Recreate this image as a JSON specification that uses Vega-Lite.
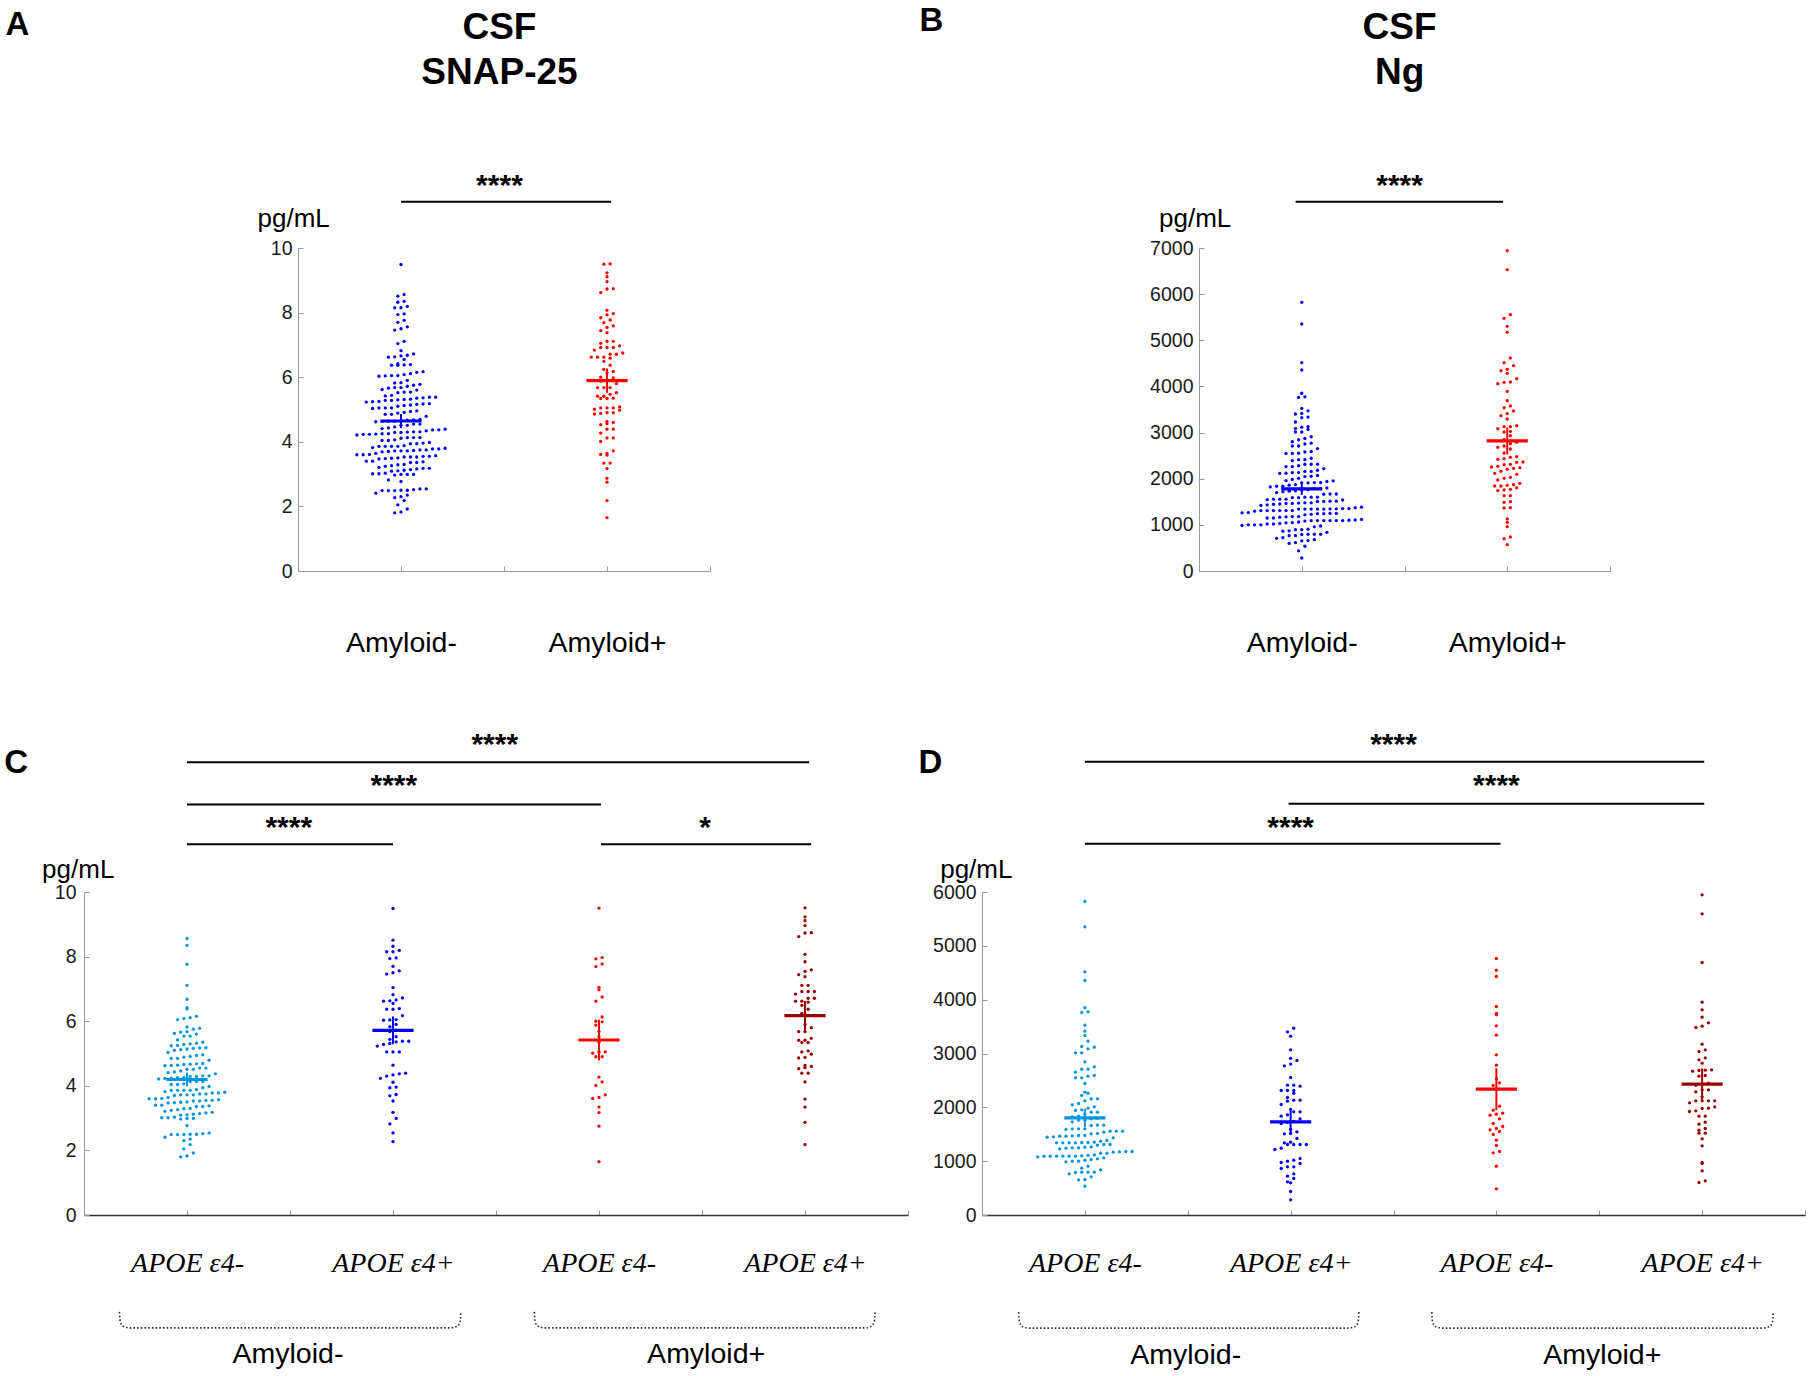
{
"$schema":"https://vega.github.io/schema/vega-lite/v6.json",
"background":"#ffffff",
"padding":{"left":4,"top":5,"right":0,"bottom":0},
"config":{"view":{"stroke":null},"font":"Liberation Sans",
"axis":{"grid":false,"domainColor":"#999999","tickColor":"#999999","domainWidth":1,"tickWidth":1,"tickSize":-5,"labelColor":"#1a1a1a","labelFontSize":19.5,"labelFont":"Liberation Sans","titleFont":"Liberation Sans"}},
"datasets":{
"notes":[
{"p":"A","k":"L","t":"A","px":-0.92,"py":16.58},
{"p":"B","k":"L","t":"B","px":-0.86,"py":11698},
{"p":"C","k":"L","t":"C","px":0.113,"py":13.69},
{"p":"D","k":"L","t":"D","px":0.191,"py":8209},
{"p":"A","k":"T","t":"CSF","px":1.478,"py":16.47},
{"p":"A","k":"T","t":"SNAP-25","px":1.478,"py":15.065},
{"p":"B","k":"T","t":"CSF","px":1.476,"py":11529},
{"p":"B","k":"T","t":"Ng","px":1.476,"py":10545},
{"p":"A","k":"S","t":"****","px":1.478,"py":11.653},
{"p":"B","k":"S","t":"****","px":1.476,"py":8157},
{"p":"C","k":"S","t":"****","px":2.494,"py":14.263},
{"p":"C","k":"S","t":"****","px":2.004,"py":12.992},
{"p":"C","k":"S","t":"****","px":1.494,"py":11.694},
{"p":"C","k":"S","t":"*","px":3.515,"py":11.694},
{"p":"D","k":"S","t":"****","px":2.5,"py":8571},
{"p":"D","k":"S","t":"****","px":3.0,"py":7808},
{"p":"D","k":"S","t":"****","px":2.0,"py":7027},
{"p":"C","k":"G","t":"Amyloid-","px":1.49,"py":-4.59},
{"p":"C","k":"G","t":"Amyloid+","px":3.52,"py":-4.59},
{"p":"D","k":"G","t":"Amyloid-","px":1.49,"py":-2759},
{"p":"D","k":"G","t":"Amyloid+","px":3.515,"py":-2759}
],
"sigl":[
{"p":"A","px":1,"px2":2.02,"py":11.433},
{"p":"B","px":0.97,"px2":1.98,"py":8003},
{"p":"C","px":1,"px2":4.02,"py":14.02},
{"p":"C","px":1,"px2":3.01,"py":12.71},
{"p":"C","px":1,"px2":2.0,"py":11.48},
{"p":"C","px":3.01,"px2":4.03,"py":11.48},
{"p":"D","px":1,"px2":4.01,"py":8419},
{"p":"D","px":1.99,"px2":4.01,"py":7639},
{"p":"D","px":1.0,"px2":3.02,"py":6897}
],
"brace":[
{"p":"C","id":1,"o":1,"px":0.672,"py":-3.0},{"p":"C","id":1,"o":2,"px":0.676,"py":-3.3},{"p":"C","id":1,"o":3,"px":0.69,"py":-3.447},{"p":"C","id":1,"o":4,"px":0.727,"py":-3.496},{"p":"C","id":1,"o":5,"px":2.275,"py":-3.496},{"p":"C","id":1,"o":6,"px":2.312,"py":-3.447},{"p":"C","id":1,"o":7,"px":2.326,"py":-3.3},{"p":"C","id":1,"o":8,"px":2.33,"py":-3.0},
{"p":"C","id":2,"o":1,"px":2.686,"py":-3.0},{"p":"C","id":2,"o":2,"px":2.69,"py":-3.3},{"p":"C","id":2,"o":3,"px":2.704,"py":-3.447},{"p":"C","id":2,"o":4,"px":2.741,"py":-3.496},{"p":"C","id":2,"o":5,"px":4.285,"py":-3.496},{"p":"C","id":2,"o":6,"px":4.322,"py":-3.447},{"p":"C","id":2,"o":7,"px":4.336,"py":-3.3},{"p":"C","id":2,"o":8,"px":4.34,"py":-3.0},
{"p":"D","id":3,"o":1,"px":0.678,"py":-1804},{"p":"D","id":3,"o":2,"px":0.682,"py":-1984},{"p":"D","id":3,"o":3,"px":0.696,"py":-2072},{"p":"D","id":3,"o":4,"px":0.733,"py":-2101},{"p":"D","id":3,"o":5,"px":2.277,"py":-2101},{"p":"D","id":3,"o":6,"px":2.314,"py":-2072},{"p":"D","id":3,"o":7,"px":2.328,"py":-1984},{"p":"D","id":3,"o":8,"px":2.332,"py":-1804},
{"p":"D","id":4,"o":1,"px":2.686,"py":-1804},{"p":"D","id":4,"o":2,"px":2.69,"py":-1984},{"p":"D","id":4,"o":3,"px":2.704,"py":-2072},{"p":"D","id":4,"o":4,"px":2.741,"py":-2101},{"p":"D","id":4,"o":5,"px":4.291,"py":-2101},{"p":"D","id":4,"o":6,"px":4.328,"py":-2072},{"p":"D","id":4,"o":7,"px":4.342,"py":-1984},{"p":"D","id":4,"o":8,"px":4.346,"py":-1804}
],
"pts":[
{"m":"S","g":1,"v":8.56},{"m":"S","g":1,"v":8.35},{"m":"S","g":1,"v":7.76},{"m":"S","g":1,"v":7.11},{"m":"S","g":1,"v":6.68},{"m":"S","g":1,"v":6.42},{"m":"S","g":1,"v":6.38},{"m":"S","g":1,"v":6.15},{"m":"S","g":1,"v":6.11},{"m":"S","g":1,"v":6.05},{"m":"S","g":1,"v":6.08},{"m":"S","g":1,"v":5.78},{"m":"S","g":1,"v":5.82},{"m":"S","g":1,"v":5.75},{"m":"S","g":1,"v":5.62},{"m":"S","g":1,"v":5.54},{"m":"S","g":1,"v":5.66},{"m":"S","g":1,"v":5.68},{"m":"S","g":1,"v":5.60},{"m":"S","g":1,"v":5.54},
{"m":"S","g":1,"v":5.30},{"m":"S","g":1,"v":5.42},{"m":"S","g":1,"v":5.32},{"m":"S","g":1,"v":5.35},{"m":"S","g":1,"v":5.28},{"m":"S","g":1,"v":5.24},{"m":"S","g":1,"v":5.25},{"m":"S","g":1,"v":5.10},{"m":"S","g":1,"v":5.17},{"m":"S","g":1,"v":5.16},{"m":"S","g":1,"v":5.18},{"m":"S","g":1,"v":5.12},{"m":"S","g":1,"v":5.14},{"m":"S","g":1,"v":4.94},{"m":"S","g":1,"v":4.89},{"m":"S","g":1,"v":5.03},{"m":"S","g":1,"v":4.85},{"m":"S","g":1,"v":4.91},{"m":"S","g":1,"v":4.85},{"m":"S","g":1,"v":4.96},
{"m":"S","g":1,"v":4.79},{"m":"S","g":1,"v":4.64},{"m":"S","g":1,"v":4.69},{"m":"S","g":1,"v":4.62},{"m":"S","g":1,"v":4.66},{"m":"S","g":1,"v":4.67},{"m":"S","g":1,"v":4.68},{"m":"S","g":1,"v":4.63},{"m":"S","g":1,"v":4.46},{"m":"S","g":1,"v":4.51},{"m":"S","g":1,"v":4.55},{"m":"S","g":1,"v":4.51},{"m":"S","g":1,"v":4.55},{"m":"S","g":1,"v":4.37},{"m":"S","g":1,"v":4.43},{"m":"S","g":1,"v":4.41},{"m":"S","g":1,"v":4.24},{"m":"S","g":1,"v":4.21},{"m":"S","g":1,"v":4.13},{"m":"S","g":1,"v":4.25},
{"m":"S","g":1,"v":4.29},{"m":"S","g":1,"v":4.31},{"m":"S","g":1,"v":4.25},{"m":"S","g":1,"v":4.31},{"m":"S","g":1,"v":4.29},{"m":"S","g":1,"v":4.23},{"m":"S","g":1,"v":4.13},{"m":"S","g":1,"v":4.13},{"m":"S","g":1,"v":4.04},{"m":"S","g":1,"v":4.04},{"m":"S","g":1,"v":4.06},{"m":"S","g":1,"v":3.98},{"m":"S","g":1,"v":3.94},{"m":"S","g":1,"v":3.86},{"m":"S","g":1,"v":3.88},{"m":"S","g":1,"v":3.80},{"m":"S","g":1,"v":3.78},{"m":"S","g":1,"v":3.78},{"m":"S","g":1,"v":3.86},{"m":"S","g":1,"v":3.86},
{"m":"S","g":1,"v":3.82},{"m":"S","g":1,"v":3.86},{"m":"S","g":1,"v":3.75},{"m":"S","g":1,"v":3.75},{"m":"S","g":1,"v":3.72},{"m":"S","g":1,"v":3.70},{"m":"S","g":1,"v":3.61},{"m":"S","g":1,"v":3.72},{"m":"S","g":1,"v":3.72},{"m":"S","g":1,"v":3.50},{"m":"S","g":1,"v":3.48},{"m":"S","g":1,"v":3.57},{"m":"S","g":1,"v":3.53},{"m":"S","g":1,"v":3.55},{"m":"S","g":1,"v":3.53},{"m":"S","g":1,"v":3.60},{"m":"S","g":1,"v":3.55},{"m":"S","g":1,"v":3.60},{"m":"S","g":1,"v":3.47},{"m":"S","g":1,"v":3.64},
{"m":"S","g":1,"v":3.49},{"m":"S","g":1,"v":3.36},{"m":"S","g":1,"v":3.40},{"m":"S","g":1,"v":3.36},{"m":"S","g":1,"v":3.40},{"m":"S","g":1,"v":3.30},{"m":"S","g":1,"v":3.38},{"m":"S","g":1,"v":3.29},{"m":"S","g":1,"v":3.24},{"m":"S","g":1,"v":3.26},{"m":"S","g":1,"v":2.97},{"m":"S","g":1,"v":3.12},{"m":"S","g":1,"v":2.99},{"m":"S","g":1,"v":3.18},{"m":"S","g":1,"v":3.01},{"m":"S","g":1,"v":3.14},{"m":"S","g":1,"v":3.10},{"m":"S","g":1,"v":2.99},{"m":"S","g":1,"v":3.01},{"m":"S","g":1,"v":3.09},
{"m":"S","g":1,"v":3.03},{"m":"S","g":1,"v":3.16},{"m":"S","g":1,"v":3.21},{"m":"S","g":1,"v":2.77},{"m":"S","g":1,"v":2.41},{"m":"S","g":1,"v":2.52},{"m":"S","g":1,"v":2.49},{"m":"S","g":1,"v":2.50},{"m":"S","g":1,"v":2.54},{"m":"S","g":1,"v":2.49},{"m":"S","g":1,"v":2.49},{"m":"S","g":1,"v":2.50},{"m":"S","g":1,"v":2.35},{"m":"S","g":1,"v":2.30},{"m":"S","g":1,"v":2.18},{"m":"S","g":1,"v":2.05},{"m":"S","g":1,"v":1.92},{"m":"S","g":1,"v":1.80},{"m":"S","g":1,"v":1.83},
{"m":"S","g":2,"v":9.49},{"m":"S","g":2,"v":8.51},{"m":"S","g":2,"v":8.32},{"m":"S","g":2,"v":8.19},{"m":"S","g":2,"v":8.15},{"m":"S","g":2,"v":8.15},{"m":"S","g":2,"v":7.94},{"m":"S","g":2,"v":7.96},{"m":"S","g":2,"v":7.70},{"m":"S","g":2,"v":7.56},{"m":"S","g":2,"v":7.50},{"m":"S","g":2,"v":7.46},{"m":"S","g":2,"v":7.04},{"m":"S","g":2,"v":6.82},{"m":"S","g":2,"v":6.72},{"m":"S","g":2,"v":6.62},{"m":"S","g":2,"v":6.66},{"m":"S","g":2,"v":6.63},{"m":"S","g":2,"v":6.55},{"m":"S","g":2,"v":6.37},
{"m":"S","g":2,"v":6.37},{"m":"S","g":2,"v":6.39},{"m":"S","g":2,"v":6.17},{"m":"S","g":2,"v":6.05},{"m":"S","g":2,"v":6.04},{"m":"S","g":2,"v":6.03},{"m":"S","g":2,"v":5.90},{"m":"S","g":2,"v":5.83},{"m":"S","g":2,"v":5.72},{"m":"S","g":2,"v":5.68},{"m":"S","g":2,"v":5.52},{"m":"S","g":2,"v":5.44},{"m":"S","g":2,"v":5.38},{"m":"S","g":2,"v":5.38},{"m":"S","g":2,"v":5.31},{"m":"S","g":2,"v":5.36},{"m":"S","g":2,"v":5.28},{"m":"S","g":2,"v":5.23},{"m":"S","g":2,"v":5.05},{"m":"S","g":2,"v":5.05},
{"m":"S","g":2,"v":5.05},{"m":"S","g":2,"v":4.64},{"m":"S","g":2,"v":4.39},{"m":"S","g":2,"v":4.34},{"m":"S","g":2,"v":4.30},{"m":"S","g":2,"v":4.37},{"m":"S","g":2,"v":4.23},{"m":"S","g":2,"v":4.11},{"m":"S","g":2,"v":3.96},{"m":"S","g":2,"v":3.94},{"m":"S","g":2,"v":3.73},{"m":"S","g":2,"v":3.69},{"m":"S","g":2,"v":3.53},{"m":"S","g":2,"v":3.18},{"m":"S","g":2,"v":2.99},{"m":"S","g":2,"v":2.82},{"m":"S","g":2,"v":2.54},{"m":"S","g":2,"v":2.27},
{"m":"S","g":3,"v":9.50},{"m":"S","g":3,"v":7.97},{"m":"S","g":3,"v":7.93},{"m":"S","g":3,"v":7.77},{"m":"S","g":3,"v":7.69},{"m":"S","g":3,"v":7.05},{"m":"S","g":3,"v":6.97},{"m":"S","g":3,"v":6.75},{"m":"S","g":3,"v":6.62},{"m":"S","g":3,"v":6.13},{"m":"S","g":3,"v":5.98},{"m":"S","g":3,"v":6.00},{"m":"S","g":3,"v":5.88},{"m":"S","g":3,"v":5.68},{"m":"S","g":3,"v":5.52},{"m":"S","g":3,"v":5.35},{"m":"S","g":3,"v":5.05},{"m":"S","g":3,"v":5.01},{"m":"S","g":3,"v":5.05},{"m":"S","g":3,"v":4.90},
{"m":"S","g":3,"v":4.90},{"m":"S","g":3,"v":4.27},{"m":"S","g":3,"v":4.12},{"m":"S","g":3,"v":4.01},{"m":"S","g":3,"v":3.72},{"m":"S","g":3,"v":3.64},{"m":"S","g":3,"v":3.61},{"m":"S","g":3,"v":3.34},{"m":"S","g":3,"v":3.17},{"m":"S","g":3,"v":2.75},{"m":"S","g":3,"v":1.65},
{"m":"S","g":4,"v":9.51},{"m":"S","g":4,"v":9.23},{"m":"S","g":4,"v":9.11},{"m":"S","g":4,"v":8.96},{"m":"S","g":4,"v":8.74},{"m":"S","g":4,"v":8.73},{"m":"S","g":4,"v":8.62},{"m":"S","g":4,"v":8.07},{"m":"S","g":4,"v":7.84},{"m":"S","g":4,"v":7.59},{"m":"S","g":4,"v":7.54},{"m":"S","g":4,"v":7.44},{"m":"S","g":4,"v":7.38},{"m":"S","g":4,"v":7.11},{"m":"S","g":4,"v":7.11},{"m":"S","g":4,"v":6.92},{"m":"S","g":4,"v":6.92},{"m":"S","g":4,"v":6.92},{"m":"S","g":4,"v":6.84},{"m":"S","g":4,"v":6.71},
{"m":"S","g":4,"v":6.71},{"m":"S","g":4,"v":6.62},{"m":"S","g":4,"v":6.62},{"m":"S","g":4,"v":6.59},{"m":"S","g":4,"v":6.49},{"m":"S","g":4,"v":6.37},{"m":"S","g":4,"v":6.24},{"m":"S","g":4,"v":6.18},{"m":"S","g":4,"v":5.90},{"m":"S","g":4,"v":5.80},{"m":"S","g":4,"v":5.68},{"m":"S","g":4,"v":5.68},{"m":"S","g":4,"v":5.47},{"m":"S","g":4,"v":5.41},{"m":"S","g":4,"v":5.41},{"m":"S","g":4,"v":5.34},{"m":"S","g":4,"v":5.34},{"m":"S","g":4,"v":5.08},{"m":"S","g":4,"v":5.05},{"m":"S","g":4,"v":4.98},
{"m":"S","g":4,"v":4.88},{"m":"S","g":4,"v":4.86},{"m":"S","g":4,"v":4.63},{"m":"S","g":4,"v":4.60},{"m":"S","g":4,"v":4.56},{"m":"S","g":4,"v":4.53},{"m":"S","g":4,"v":4.39},{"m":"S","g":4,"v":4.39},{"m":"S","g":4,"v":4.12},{"m":"S","g":4,"v":3.59},{"m":"S","g":4,"v":3.34},{"m":"S","g":4,"v":2.87},{"m":"S","g":4,"v":2.18},
{"m":"N","g":1,"v":5823},{"m":"N","g":1,"v":5353},{"m":"N","g":1,"v":4517},{"m":"N","g":1,"v":4356},{"m":"N","g":1,"v":3852},{"m":"N","g":1,"v":3774},{"m":"N","g":1,"v":3762},{"m":"N","g":1,"v":3526},{"m":"N","g":1,"v":3415},{"m":"N","g":1,"v":3335},{"m":"N","g":1,"v":3229},{"m":"N","g":1,"v":3130},{"m":"N","g":1,"v":3118},{"m":"N","g":1,"v":3087},{"m":"N","g":1,"v":3013},{"m":"N","g":1,"v":3013},{"m":"N","g":1,"v":2845},{"m":"N","g":1,"v":2752},{"m":"N","g":1,"v":2709},{"m":"N","g":1,"v":2653},
{"m":"N","g":1,"v":2709},{"m":"N","g":1,"v":2591},{"m":"N","g":1,"v":2579},{"m":"N","g":1,"v":2548},{"m":"N","g":1,"v":2548},{"m":"N","g":1,"v":2443},{"m":"N","g":1,"v":2282},{"m":"N","g":1,"v":2263},{"m":"N","g":1,"v":2220},{"m":"N","g":1,"v":2158},{"m":"N","g":1,"v":2158},{"m":"N","g":1,"v":2121},{"m":"N","g":1,"v":2071},{"m":"N","g":1,"v":2046},{"m":"N","g":1,"v":2009},{"m":"N","g":1,"v":1985},{"m":"N","g":1,"v":1954},{"m":"N","g":1,"v":1942},{"m":"N","g":1,"v":1910},{"m":"N","g":1,"v":1910},
{"m":"N","g":1,"v":1873},{"m":"N","g":1,"v":1836},{"m":"N","g":1,"v":1799},{"m":"N","g":1,"v":1823},{"m":"N","g":1,"v":1762},{"m":"N","g":1,"v":1762},{"m":"N","g":1,"v":1731},{"m":"N","g":1,"v":1786},{"m":"N","g":1,"v":1669},{"m":"N","g":1,"v":1669},{"m":"N","g":1,"v":1663},{"m":"N","g":1,"v":1601},{"m":"N","g":1,"v":1601},{"m":"N","g":1,"v":1601},{"m":"N","g":1,"v":1589},{"m":"N","g":1,"v":1557},{"m":"N","g":1,"v":1557},{"m":"N","g":1,"v":1557},{"m":"N","g":1,"v":1539},{"m":"N","g":1,"v":1508},
{"m":"N","g":1,"v":1514},{"m":"N","g":1,"v":1477},{"m":"N","g":1,"v":1477},{"m":"N","g":1,"v":1465},{"m":"N","g":1,"v":1471},{"m":"N","g":1,"v":1446},{"m":"N","g":1,"v":1465},{"m":"N","g":1,"v":1434},{"m":"N","g":1,"v":1452},{"m":"N","g":1,"v":1384},{"m":"N","g":1,"v":1372},{"m":"N","g":1,"v":1353},{"m":"N","g":1,"v":1347},{"m":"N","g":1,"v":1347},{"m":"N","g":1,"v":1341},{"m":"N","g":1,"v":1341},{"m":"N","g":1,"v":1341},{"m":"N","g":1,"v":1310},{"m":"N","g":1,"v":1297},{"m":"N","g":1,"v":1310},
{"m":"N","g":1,"v":1341},{"m":"N","g":1,"v":1260},{"m":"N","g":1,"v":1248},{"m":"N","g":1,"v":1248},{"m":"N","g":1,"v":1267},{"m":"N","g":1,"v":1242},{"m":"N","g":1,"v":1229},{"m":"N","g":1,"v":1180},{"m":"N","g":1,"v":1173},{"m":"N","g":1,"v":1149},{"m":"N","g":1,"v":1149},{"m":"N","g":1,"v":1180},{"m":"N","g":1,"v":1167},{"m":"N","g":1,"v":1118},{"m":"N","g":1,"v":1100},{"m":"N","g":1,"v":1093},{"m":"N","g":1,"v":1081},{"m":"N","g":1,"v":1093},{"m":"N","g":1,"v":1093},{"m":"N","g":1,"v":1106},
{"m":"N","g":1,"v":1093},{"m":"N","g":1,"v":1093},{"m":"N","g":1,"v":1093},{"m":"N","g":1,"v":1043},{"m":"N","g":1,"v":1031},{"m":"N","g":1,"v":1019},{"m":"N","g":1,"v":1000},{"m":"N","g":1,"v":1000},{"m":"N","g":1,"v":988},{"m":"N","g":1,"v":1062},{"m":"N","g":1,"v":907},{"m":"N","g":1,"v":870},{"m":"N","g":1,"v":839},{"m":"N","g":1,"v":790},{"m":"N","g":1,"v":796},{"m":"N","g":1,"v":765},{"m":"N","g":1,"v":796},{"m":"N","g":1,"v":796},{"m":"N","g":1,"v":709},{"m":"N","g":1,"v":659},
{"m":"N","g":1,"v":653},{"m":"N","g":1,"v":536},
{"m":"N","g":2,"v":3471},{"m":"N","g":2,"v":3403},{"m":"N","g":2,"v":3322},{"m":"N","g":2,"v":3068},{"m":"N","g":2,"v":2910},{"m":"N","g":2,"v":2871},{"m":"N","g":2,"v":2803},{"m":"N","g":2,"v":2771},{"m":"N","g":2,"v":2554},{"m":"N","g":2,"v":2412},{"m":"N","g":2,"v":2393},{"m":"N","g":2,"v":2412},{"m":"N","g":2,"v":2313},{"m":"N","g":2,"v":2263},{"m":"N","g":2,"v":2313},{"m":"N","g":2,"v":2313},{"m":"N","g":2,"v":2183},{"m":"N","g":2,"v":2133},{"m":"N","g":2,"v":2115},{"m":"N","g":2,"v":2133},
{"m":"N","g":2,"v":2053},{"m":"N","g":2,"v":1960},{"m":"N","g":2,"v":1916},{"m":"N","g":2,"v":1916},{"m":"N","g":2,"v":1836},{"m":"N","g":2,"v":1861},{"m":"N","g":2,"v":1786},{"m":"N","g":2,"v":1740},{"m":"N","g":2,"v":1720},{"m":"N","g":2,"v":1700},{"m":"N","g":2,"v":1589},{"m":"N","g":2,"v":1545},{"m":"N","g":2,"v":1508},{"m":"N","g":2,"v":1514},{"m":"N","g":2,"v":1421},{"m":"N","g":2,"v":1341},{"m":"N","g":2,"v":1353},{"m":"N","g":2,"v":1310},{"m":"N","g":2,"v":1310},{"m":"N","g":2,"v":1310},
{"m":"N","g":2,"v":1310},{"m":"N","g":2,"v":1242},{"m":"N","g":2,"v":1217},{"m":"N","g":2,"v":1050},{"m":"N","g":2,"v":1019},{"m":"N","g":2,"v":1000},{"m":"N","g":2,"v":975},{"m":"N","g":2,"v":957},{"m":"N","g":2,"v":895},{"m":"N","g":2,"v":895},{"m":"N","g":2,"v":864},{"m":"N","g":2,"v":765},{"m":"N","g":2,"v":722},{"m":"N","g":2,"v":678},{"m":"N","g":2,"v":616},{"m":"N","g":2,"v":598},{"m":"N","g":2,"v":437},{"m":"N","g":2,"v":282},
{"m":"N","g":3,"v":4765},{"m":"N","g":3,"v":4548},{"m":"N","g":3,"v":4430},{"m":"N","g":3,"v":3873},{"m":"N","g":3,"v":3743},{"m":"N","g":3,"v":3719},{"m":"N","g":3,"v":3514},{"m":"N","g":3,"v":3341},{"m":"N","g":3,"v":2975},{"m":"N","g":3,"v":2783},{"m":"N","g":3,"v":2529},{"m":"N","g":3,"v":2455},{"m":"N","g":3,"v":2405},{"m":"N","g":3,"v":2343},{"m":"N","g":3,"v":2022},{"m":"N","g":3,"v":1948},{"m":"N","g":3,"v":1892},{"m":"N","g":3,"v":1873},{"m":"N","g":3,"v":1855},{"m":"N","g":3,"v":1786},
{"m":"N","g":3,"v":1700},{"m":"N","g":3,"v":1644},{"m":"N","g":3,"v":1607},{"m":"N","g":3,"v":1582},{"m":"N","g":3,"v":1551},{"m":"N","g":3,"v":1496},{"m":"N","g":3,"v":1390},{"m":"N","g":3,"v":1291},{"m":"N","g":3,"v":1180},{"m":"N","g":3,"v":1155},{"m":"N","g":3,"v":907},{"m":"N","g":3,"v":486},
{"m":"N","g":4,"v":5947},{"m":"N","g":4,"v":5595},{"m":"N","g":4,"v":4691},{"m":"N","g":4,"v":3954},{"m":"N","g":4,"v":3811},{"m":"N","g":4,"v":3675},{"m":"N","g":4,"v":3570},{"m":"N","g":4,"v":3483},{"m":"N","g":4,"v":3508},{"m":"N","g":4,"v":3173},{"m":"N","g":4,"v":3068},{"m":"N","g":4,"v":3037},{"m":"N","g":4,"v":2919},{"m":"N","g":4,"v":2883},{"m":"N","g":4,"v":2821},{"m":"N","g":4,"v":2690},{"m":"N","g":4,"v":2672},{"m":"N","g":4,"v":2697},{"m":"N","g":4,"v":2684},{"m":"N","g":4,"v":2591},
{"m":"N","g":4,"v":2579},{"m":"N","g":4,"v":2450},{"m":"N","g":4,"v":2430},{"m":"N","g":4,"v":2410},{"m":"N","g":4,"v":2325},{"m":"N","g":4,"v":2325},{"m":"N","g":4,"v":2288},{"m":"N","g":4,"v":2195},{"m":"N","g":4,"v":2121},{"m":"N","g":4,"v":2121},{"m":"N","g":4,"v":2121},{"m":"N","g":4,"v":2121},{"m":"N","g":4,"v":2084},{"m":"N","g":4,"v":1985},{"m":"N","g":4,"v":2009},{"m":"N","g":4,"v":1979},{"m":"N","g":4,"v":1935},{"m":"N","g":4,"v":1923},{"m":"N","g":4,"v":1836},{"m":"N","g":4,"v":1836},
{"m":"N","g":4,"v":1725},{"m":"N","g":4,"v":1687},{"m":"N","g":4,"v":1607},{"m":"N","g":4,"v":1576},{"m":"N","g":4,"v":1520},{"m":"N","g":4,"v":1520},{"m":"N","g":4,"v":1415},{"m":"N","g":4,"v":1285},{"m":"N","g":4,"v":975},{"m":"N","g":4,"v":957},{"m":"N","g":4,"v":821},{"m":"N","g":4,"v":635},{"m":"N","g":4,"v":604},
{"m":"NB","g":0,"v":6942},{"m":"NB","g":0,"v":6530},{"m":"NB","g":0,"v":5555},{"m":"NB","g":0,"v":5476},{"m":"NB","g":0,"v":5302},{"m":"NB","g":0,"v":5172},{"m":"NB","g":0,"v":4616},{"m":"NB","g":0,"v":4515},{"m":"NB","g":0,"v":4450},{"m":"NB","g":0,"v":4371},{"m":"NB","g":0,"v":4342},{"m":"NB","g":0,"v":4284},{"m":"NB","g":0,"v":4168},{"m":"NB","g":0,"v":4089},{"m":"NB","g":0,"v":4096},{"m":"NB","g":0,"v":4060},{"m":"NB","g":0,"v":3894},{"m":"NB","g":0,"v":3691},{"m":"NB","g":0,"v":3576},{"m":"NB","g":0,"v":3540},
{"m":"NB","g":0,"v":3468},{"m":"NB","g":0,"v":3410},{"m":"NB","g":0,"v":3366},{"m":"NB","g":0,"v":3294},{"m":"NB","g":0,"v":3150},{"m":"NB","g":0,"v":3128},{"m":"NB","g":0,"v":3128},{"m":"NB","g":0,"v":3085},{"m":"NB","g":0,"v":3027},{"m":"NB","g":0,"v":3012},{"m":"NB","g":0,"v":2933},{"m":"NB","g":0,"v":2850},{"m":"NB","g":0,"v":2790},{"m":"NB","g":0,"v":2760},{"m":"NB","g":0,"v":2709},{"m":"NB","g":0,"v":2680},{"m":"NB","g":0,"v":2644},{"m":"NB","g":0,"v":2557},{"m":"NB","g":0,"v":2478},{"m":"NB","g":0,"v":2463},
{"m":"NB","g":0,"v":2420},{"m":"NB","g":0,"v":2434},{"m":"NB","g":0,"v":2362},{"m":"NB","g":0,"v":2355},{"m":"NB","g":0,"v":2304},{"m":"NB","g":0,"v":2312},{"m":"NB","g":0,"v":2268},{"m":"NB","g":0,"v":2254},{"m":"NB","g":0,"v":2239},{"m":"NB","g":0,"v":2225},{"m":"NB","g":0,"v":2203},{"m":"NB","g":0,"v":2160},{"m":"NB","g":0,"v":2117},{"m":"NB","g":0,"v":2095},{"m":"NB","g":0,"v":2030},{"m":"NB","g":0,"v":2008},{"m":"NB","g":0,"v":1972},{"m":"NB","g":0,"v":1900},{"m":"NB","g":0,"v":1857},{"m":"NB","g":0,"v":1871},
{"m":"NB","g":0,"v":1842},{"m":"NB","g":0,"v":1842},{"m":"NB","g":0,"v":1806},{"m":"NB","g":0,"v":1770},{"m":"NB","g":0,"v":1755},{"m":"NB","g":0,"v":1741},{"m":"NB","g":0,"v":1633},{"m":"NB","g":0,"v":1633},{"m":"NB","g":0,"v":1503},{"m":"NB","g":0,"v":1488},{"m":"NB","g":0,"v":1365},{"m":"NB","g":0,"v":1373},{"m":"NB","g":0,"v":1127},{"m":"NB","g":0,"v":1055},{"m":"NB","g":0,"v":961},{"m":"NB","g":0,"v":737},{"m":"NB","g":0,"v":701},{"m":"NB","g":0,"v":571}
]
},
"spacing":644,
"bounds":"flush",
"resolve":{"scale":{"x":"independent","y":"independent","color":"independent"}},
"vconcat":[
{"spacing":0,"bounds":"flush","resolve":{"scale":{"x":"independent","y":"independent","color":"independent"}},
"hconcat":[
{"width":214,"height":1,"data":{"values":[]},"mark":{"type":"point","opacity":0}},
{"spacing":489,"bounds":"flush","resolve":{"scale":{"x":"independent","y":"independent","color":"independent"}},
"hconcat":[
{"width":412,"height":323,
"encoding":{
"x":{"field":"px","type":"quantitative","scale":{"domain":[0.5,2.5],"nice":false,"zero":false},"axis":{"title":null,"values":[1,1.5,2,2.5],"labelExpr":"datum.value==1?'Amyloid-':(datum.value==2?'Amyloid+':'')","labelFontSize":28.5,"labelColor":"#000000","labelPadding":85,"labelBaseline":"alphabetic","labelOverlap":false,"labelFlush":false,"labelBound":false}},
"y":{"field":"py","type":"quantitative","scale":{"domain":[0,10],"nice":false,"zero":false},"axis":{"values":[0,2,4,6,8,10],"title":"pg/mL","titleAngle":0,"titleAlign":"left","titleBaseline":"alphabetic","titleX":-41,"titleY":-22,"titleFontSize":26,"titleFontWeight":"normal","titleColor":"#000000","labelPadding":11}}},
"layer":[
{"data":{"name":"pts"},"transform":[{"filter":"datum.m=='S'"},{"calculate":"datum.g<=2?1:2","as":"gx"},{"calculate":"datum.g<=2?'neg':'pos'","as":"ck"},{"calculate":"floor(datum.v/0.2)","as":"b"},{"window":[{"op":"row_number","as":"rn"},{"op":"count","as":"n"}],"groupby":["gx","b"],"sort":[{"field":"v","order":"ascending"}],"frame":[null,null]},{"calculate":"datum.gx+(datum.rn-(datum.n+1)/2)*0.0306","as":"px"},{"calculate":"datum.v","as":"py"}],
"mark":{"type":"circle","size":11,"opacity":1},
"encoding":{"color":{"field":"ck","type":"nominal","scale":{"domain":["neg","pos"],"range":["#0000FF","#FF0000"]},"legend":null}}},
{"data":{"name":"pts"},"transform":[{"filter":"datum.m=='S'"},{"calculate":"datum.g<=2?1:2","as":"gx"},{"calculate":"datum.g<=2?'neg':'pos'","as":"ck"},{"aggregate":[{"op":"mean","field":"v","as":"mu"}],"groupby":["gx","ck"]},{"calculate":"datum.gx-0.1","as":"px"},{"calculate":"datum.gx+0.1","as":"px2"},{"calculate":"datum.mu","as":"py"}],
"mark":{"type":"rule","strokeWidth":3.2},
"encoding":{"x2":{"field":"px2"},"color":{"field":"ck","type":"nominal","scale":{"domain":["neg","pos"],"range":["#0000FF","#FF0000"]},"legend":null}}},
{"data":{"name":"pts"},"transform":[{"filter":"datum.m=='S'"},{"calculate":"datum.g<=2?1:2","as":"gx"},{"calculate":"datum.g<=2?'neg':'pos'","as":"ck"},{"aggregate":[{"op":"mean","field":"v","as":"mu"},{"op":"stderr","field":"v","as":"se"}],"groupby":["gx","ck"]},{"calculate":"datum.gx","as":"px"},{"calculate":"datum.mu-1.96*datum.se","as":"py"},{"calculate":"datum.mu+1.96*datum.se","as":"py2"}],
"mark":{"type":"rule","strokeWidth":2},
"encoding":{"y2":{"field":"py2"},"color":{"field":"ck","type":"nominal","scale":{"domain":["neg","pos"],"range":["#0000FF","#FF0000"]},"legend":null}}},
{"data":{"name":"sigl"},"transform":[{"filter":"datum.p=='A'"}],"mark":{"type":"rule","strokeWidth":2,"color":"#000000"},"encoding":{"x2":{"field":"px2"}}},
{"data":{"name":"notes"},"transform":[{"filter":"datum.p=='A'&&datum.k=='S'"}],"mark":{"type":"text","fontSize":30,"fontWeight":"bold","align":"center","baseline":"alphabetic","color":"#000000"},"encoding":{"text":{"field":"t"}}},
{"data":{"name":"notes"},"transform":[{"filter":"datum.p=='A'&&datum.k=='L'"}],"mark":{"type":"text","fontSize":33,"fontWeight":"bold","align":"left","baseline":"alphabetic","color":"#000000"},"encoding":{"text":{"field":"t"}}},
{"data":{"name":"notes"},"transform":[{"filter":"datum.p=='A'&&datum.k=='T'"}],"mark":{"type":"text","fontSize":37,"fontWeight":"bold","align":"center","baseline":"alphabetic","color":"#000000"},"encoding":{"text":{"field":"t"}}}
]},
{"width":411,"height":323,
"encoding":{
"x":{"field":"px","type":"quantitative","scale":{"domain":[0.5,2.5],"nice":false,"zero":false},"axis":{"title":null,"values":[1,1.5,2,2.5],"labelExpr":"datum.value==1?'Amyloid-':(datum.value==2?'Amyloid+':'')","labelFontSize":28.5,"labelColor":"#000000","labelPadding":85,"labelBaseline":"alphabetic","labelOverlap":false,"labelFlush":false,"labelBound":false}},
"y":{"field":"py","type":"quantitative","scale":{"domain":[0,7000],"nice":false,"zero":false},"axis":{"values":[0,1000,2000,3000,4000,5000,6000,7000],"format":"d","title":"pg/mL","titleAngle":0,"titleAlign":"left","titleBaseline":"alphabetic","titleX":-40.5,"titleY":-22,"titleFontSize":26,"titleFontWeight":"normal","titleColor":"#000000","labelPadding":11}}},
"layer":[
{"data":{"name":"pts"},"transform":[{"filter":"(datum.m=='N'&&datum.g<=2)||datum.m=='NB'"},{"calculate":"datum.m=='NB'?2:1","as":"gx"},{"calculate":"datum.m=='NB'?'pos':'neg'","as":"ck"},{"calculate":"floor(datum.v/140)","as":"b"},{"window":[{"op":"row_number","as":"rn"},{"op":"count","as":"n"}],"groupby":["gx","b"],"sort":[{"field":"v","order":"ascending"}],"frame":[null,null]},{"calculate":"datum.gx+(datum.rn-(datum.n+1)/2)*0.0306","as":"px"},{"calculate":"datum.v","as":"py"}],
"mark":{"type":"circle","size":11,"opacity":1},
"encoding":{"color":{"field":"ck","type":"nominal","scale":{"domain":["neg","pos"],"range":["#0000FF","#FF0000"]},"legend":null}}},
{"data":{"name":"pts"},"transform":[{"filter":"(datum.m=='N'&&datum.g<=2)||datum.m=='NB'"},{"calculate":"datum.m=='NB'?2:1","as":"gx"},{"calculate":"datum.m=='NB'?'pos':'neg'","as":"ck"},{"aggregate":[{"op":"mean","field":"v","as":"mu"}],"groupby":["gx","ck"]},{"calculate":"datum.gx-0.1","as":"px"},{"calculate":"datum.gx+0.1","as":"px2"},{"calculate":"datum.mu","as":"py"}],
"mark":{"type":"rule","strokeWidth":3.2},
"encoding":{"x2":{"field":"px2"},"color":{"field":"ck","type":"nominal","scale":{"domain":["neg","pos"],"range":["#0000FF","#FF0000"]},"legend":null}}},
{"data":{"name":"pts"},"transform":[{"filter":"(datum.m=='N'&&datum.g<=2)||datum.m=='NB'"},{"calculate":"datum.m=='NB'?2:1","as":"gx"},{"calculate":"datum.m=='NB'?'pos':'neg'","as":"ck"},{"aggregate":[{"op":"mean","field":"v","as":"mu"},{"op":"stderr","field":"v","as":"se"}],"groupby":["gx","ck"]},{"calculate":"datum.gx","as":"px"},{"calculate":"datum.mu-1.96*datum.se","as":"py"},{"calculate":"datum.mu+1.96*datum.se","as":"py2"}],
"mark":{"type":"rule","strokeWidth":2},
"encoding":{"y2":{"field":"py2"},"color":{"field":"ck","type":"nominal","scale":{"domain":["neg","pos"],"range":["#0000FF","#FF0000"]},"legend":null}}},
{"data":{"name":"sigl"},"transform":[{"filter":"datum.p=='B'"}],"mark":{"type":"rule","strokeWidth":2,"color":"#000000"},"encoding":{"x2":{"field":"px2"}}},
{"data":{"name":"notes"},"transform":[{"filter":"datum.p=='B'&&datum.k=='S'"}],"mark":{"type":"text","fontSize":30,"fontWeight":"bold","align":"center","baseline":"alphabetic","color":"#000000"},"encoding":{"text":{"field":"t"}}},
{"data":{"name":"notes"},"transform":[{"filter":"datum.p=='B'&&datum.k=='L'"}],"mark":{"type":"text","fontSize":33,"fontWeight":"bold","align":"left","baseline":"alphabetic","color":"#000000"},"encoding":{"text":{"field":"t"}}},
{"data":{"name":"notes"},"transform":[{"filter":"datum.p=='B'&&datum.k=='T'"}],"mark":{"type":"text","fontSize":37,"fontWeight":"bold","align":"center","baseline":"alphabetic","color":"#000000"},"encoding":{"text":{"field":"t"}}}
]}
]}
]},
{"spacing":74,"bounds":"flush","resolve":{"scale":{"x":"independent","y":"independent","color":"independent"}},
"hconcat":[
{"width":824,"height":323,
"encoding":{
"x":{"field":"px","type":"quantitative","scale":{"domain":[0.5,4.5],"nice":false,"zero":false},"axis":{"title":null,"values":[1,1.5,2,2.5,3,3.5,4,4.5],"labelExpr":"(datum.value==1||datum.value==3)?'APOE ε4-':((datum.value==2||datum.value==4)?'APOE ε4+':'')","labelFont":"Liberation Serif","labelFontStyle":"italic","labelFontSize":28,"labelColor":"#000000","labelPadding":61,"labelBaseline":"alphabetic","labelOverlap":false,"labelFlush":false,"labelBound":false,"domainColor":"#333333","domainWidth":1.6}},
"y":{"field":"py","type":"quantitative","scale":{"domain":[0,10],"nice":false,"zero":false},"axis":{"values":[0,2,4,6,8,10],"title":"pg/mL","titleAngle":0,"titleAlign":"left","titleBaseline":"alphabetic","titleX":-42.4,"titleY":-14.5,"titleFontSize":26,"titleFontWeight":"normal","titleColor":"#000000","labelPadding":13}}},
"layer":[
{"data":{"name":"pts"},"transform":[{"filter":"datum.m=='S'"},{"calculate":"datum.g","as":"gx"},{"calculate":"'k'+datum.g","as":"ck"},{"calculate":"floor(datum.v/0.2)","as":"b"},{"window":[{"op":"row_number","as":"rn"},{"op":"count","as":"n"}],"groupby":["gx","b"],"sort":[{"field":"v","order":"ascending"}],"frame":[null,null]},{"calculate":"datum.gx+(datum.rn-(datum.n+1)/2)*0.0306","as":"px"},{"calculate":"datum.v","as":"py"}],
"mark":{"type":"circle","size":11,"opacity":1},
"encoding":{"color":{"field":"ck","type":"nominal","scale":{"domain":["k1","k2","k3","k4"],"range":["#0095DE","#0000FF","#FF0000","#990000"]},"legend":null}}},
{"data":{"name":"pts"},"transform":[{"filter":"datum.m=='S'"},{"calculate":"datum.g","as":"gx"},{"calculate":"'k'+datum.g","as":"ck"},{"aggregate":[{"op":"mean","field":"v","as":"mu"}],"groupby":["gx","ck"]},{"calculate":"datum.gx-0.1","as":"px"},{"calculate":"datum.gx+0.1","as":"px2"},{"calculate":"datum.mu","as":"py"}],
"mark":{"type":"rule","strokeWidth":3.2},
"encoding":{"x2":{"field":"px2"},"color":{"field":"ck","type":"nominal","scale":{"domain":["k1","k2","k3","k4"],"range":["#0095DE","#0000FF","#FF0000","#990000"]},"legend":null}}},
{"data":{"name":"pts"},"transform":[{"filter":"datum.m=='S'"},{"calculate":"datum.g","as":"gx"},{"calculate":"'k'+datum.g","as":"ck"},{"aggregate":[{"op":"mean","field":"v","as":"mu"},{"op":"stderr","field":"v","as":"se"}],"groupby":["gx","ck"]},{"calculate":"datum.gx","as":"px"},{"calculate":"datum.mu-1.96*datum.se","as":"py"},{"calculate":"datum.mu+1.96*datum.se","as":"py2"}],
"mark":{"type":"rule","strokeWidth":2},
"encoding":{"y2":{"field":"py2"},"color":{"field":"ck","type":"nominal","scale":{"domain":["k1","k2","k3","k4"],"range":["#0095DE","#0000FF","#FF0000","#990000"]},"legend":null}}},
{"data":{"name":"sigl"},"transform":[{"filter":"datum.p=='C'"}],"mark":{"type":"rule","strokeWidth":2,"color":"#000000"},"encoding":{"x2":{"field":"px2"}}},
{"data":{"name":"notes"},"transform":[{"filter":"datum.p=='C'&&datum.k=='S'"}],"mark":{"type":"text","fontSize":30,"fontWeight":"bold","align":"center","baseline":"alphabetic","color":"#000000"},"encoding":{"text":{"field":"t"}}},
{"data":{"name":"notes"},"transform":[{"filter":"datum.p=='C'&&datum.k=='L'"}],"mark":{"type":"text","fontSize":33,"fontWeight":"bold","align":"left","baseline":"alphabetic","color":"#000000"},"encoding":{"text":{"field":"t"}}},
{"data":{"name":"notes"},"transform":[{"filter":"datum.p=='C'&&datum.k=='G'"}],"mark":{"type":"text","fontSize":28.5,"align":"center","baseline":"alphabetic","color":"#000000"},"encoding":{"text":{"field":"t"}}},
{"data":{"name":"brace"},"transform":[{"filter":"datum.p=='C'"}],"mark":{"type":"line","interpolate":"monotone","strokeDash":[1.5,2.2],"strokeWidth":1.6,"color":"#222222"},"encoding":{"detail":{"field":"id"},"order":{"field":"o"}}}
]},
{"width":823,"height":323,
"encoding":{
"x":{"field":"px","type":"quantitative","scale":{"domain":[0.5,4.5],"nice":false,"zero":false},"axis":{"title":null,"values":[1,1.5,2,2.5,3,3.5,4,4.5],"labelExpr":"(datum.value==1||datum.value==3)?'APOE ε4-':((datum.value==2||datum.value==4)?'APOE ε4+':'')","labelFont":"Liberation Serif","labelFontStyle":"italic","labelFontSize":28,"labelColor":"#000000","labelPadding":61,"labelBaseline":"alphabetic","labelOverlap":false,"labelFlush":false,"labelBound":false,"domainColor":"#333333","domainWidth":1.6}},
"y":{"field":"py","type":"quantitative","scale":{"domain":[0,6000],"nice":false,"zero":false},"axis":{"values":[0,1000,2000,3000,4000,5000,6000],"format":"d","title":"pg/mL","titleAngle":0,"titleAlign":"left","titleBaseline":"alphabetic","titleX":-42.3,"titleY":-14.5,"titleFontSize":26,"titleFontWeight":"normal","titleColor":"#000000","labelPadding":11}}},
"layer":[
{"data":{"name":"pts"},"transform":[{"filter":"datum.m=='N'"},{"calculate":"datum.g","as":"gx"},{"calculate":"'k'+datum.g","as":"ck"},{"calculate":"floor(datum.v/120)","as":"b"},{"window":[{"op":"row_number","as":"rn"},{"op":"count","as":"n"}],"groupby":["gx","b"],"sort":[{"field":"v","order":"ascending"}],"frame":[null,null]},{"calculate":"datum.gx+(datum.rn-(datum.n+1)/2)*0.0306","as":"px"},{"calculate":"datum.v","as":"py"}],
"mark":{"type":"circle","size":11,"opacity":1},
"encoding":{"color":{"field":"ck","type":"nominal","scale":{"domain":["k1","k2","k3","k4"],"range":["#0095DE","#0000FF","#FF0000","#990000"]},"legend":null}}},
{"data":{"name":"pts"},"transform":[{"filter":"datum.m=='N'"},{"calculate":"datum.g","as":"gx"},{"calculate":"'k'+datum.g","as":"ck"},{"aggregate":[{"op":"mean","field":"v","as":"mu"}],"groupby":["gx","ck"]},{"calculate":"datum.gx-0.1","as":"px"},{"calculate":"datum.gx+0.1","as":"px2"},{"calculate":"datum.mu","as":"py"}],
"mark":{"type":"rule","strokeWidth":3.2},
"encoding":{"x2":{"field":"px2"},"color":{"field":"ck","type":"nominal","scale":{"domain":["k1","k2","k3","k4"],"range":["#0095DE","#0000FF","#FF0000","#990000"]},"legend":null}}},
{"data":{"name":"pts"},"transform":[{"filter":"datum.m=='N'"},{"calculate":"datum.g","as":"gx"},{"calculate":"'k'+datum.g","as":"ck"},{"aggregate":[{"op":"mean","field":"v","as":"mu"},{"op":"stderr","field":"v","as":"se"}],"groupby":["gx","ck"]},{"calculate":"datum.gx","as":"px"},{"calculate":"datum.mu-1.96*datum.se","as":"py"},{"calculate":"datum.mu+1.96*datum.se","as":"py2"}],
"mark":{"type":"rule","strokeWidth":2},
"encoding":{"y2":{"field":"py2"},"color":{"field":"ck","type":"nominal","scale":{"domain":["k1","k2","k3","k4"],"range":["#0095DE","#0000FF","#FF0000","#990000"]},"legend":null}}},
{"data":{"name":"sigl"},"transform":[{"filter":"datum.p=='D'"}],"mark":{"type":"rule","strokeWidth":2,"color":"#000000"},"encoding":{"x2":{"field":"px2"}}},
{"data":{"name":"notes"},"transform":[{"filter":"datum.p=='D'&&datum.k=='S'"}],"mark":{"type":"text","fontSize":30,"fontWeight":"bold","align":"center","baseline":"alphabetic","color":"#000000"},"encoding":{"text":{"field":"t"}}},
{"data":{"name":"notes"},"transform":[{"filter":"datum.p=='D'&&datum.k=='L'"}],"mark":{"type":"text","fontSize":33,"fontWeight":"bold","align":"left","baseline":"alphabetic","color":"#000000"},"encoding":{"text":{"field":"t"}}},
{"data":{"name":"notes"},"transform":[{"filter":"datum.p=='D'&&datum.k=='G'"}],"mark":{"type":"text","fontSize":28.5,"align":"center","baseline":"alphabetic","color":"#000000"},"encoding":{"text":{"field":"t"}}},
{"data":{"name":"brace"},"transform":[{"filter":"datum.p=='D'"}],"mark":{"type":"line","interpolate":"monotone","strokeDash":[1.5,2.2],"strokeWidth":1.6,"color":"#222222"},"encoding":{"detail":{"field":"id"},"order":{"field":"o"}}}
]}
]}
]
}
